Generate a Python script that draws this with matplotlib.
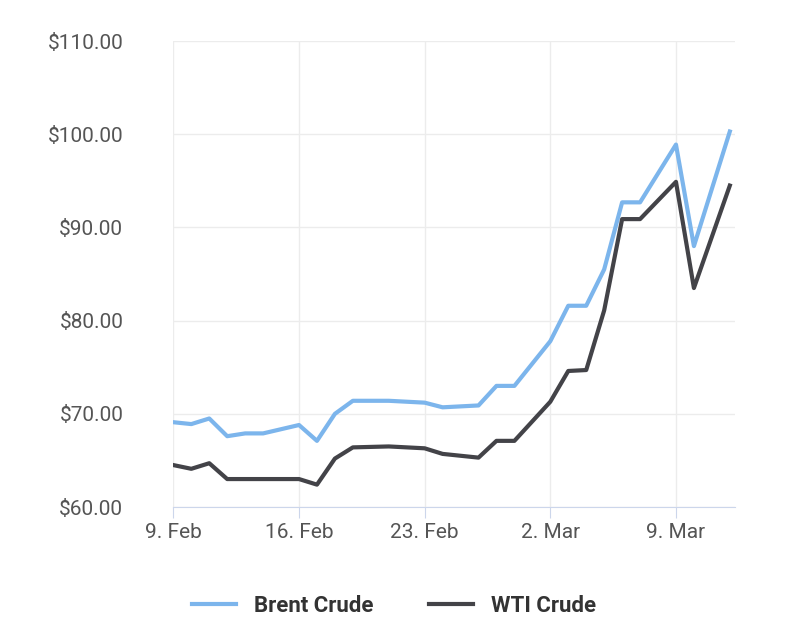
import datetime as dt
import matplotlib.pyplot as plt
import matplotlib.dates as mdates
from matplotlib.ticker import FuncFormatter

plt.rcParams['font.family'] = ['Roboto', 'DejaVu Sans']

day_offsets = [0, 1, 2, 3, 4, 5, 7, 8, 9, 10, 12, 14, 15, 17, 18, 19, 21, 22, 23, 24, 25, 26, 28, 29, 31]
brent = [69.1, 68.9, 69.5, 67.6, 67.9, 67.9, 68.8, 67.1, 70.0, 71.4, 71.4, 71.2, 70.7, 70.9,
         73.0, 73.0, 77.8, 81.6, 81.6, 85.5, 92.7, 92.7, 98.9, 88.0, 100.3]
wti = [64.5, 64.1, 64.7, 63.0, 63.0, 63.0, 63.0, 62.4, 65.2, 66.4, 66.5, 66.3, 65.7, 65.3,
       67.1, 67.1, 71.3, 74.6, 74.7, 81.1, 90.9, 90.9, 94.9, 83.5, 94.5]

start = dt.datetime(2026, 2, 9)
dates = [start + dt.timedelta(days=d) for d in day_offsets]

fig = plt.figure(figsize=(7.88, 6.43), dpi=100)
ax = fig.add_axes([0.22, 0.2115, 0.713, 0.7245])
ax.plot(dates, brent, color='#7cb5ec', lw=3, label='Brent Crude')
ax.plot(dates, wti, color='#434348', lw=3, label='WTI Crude')

ax.set_ylim(60, 110)
ax.set_yticks(range(60, 111, 10))
ax.yaxis.set_major_formatter(FuncFormatter(lambda v, p: f'${v:.2f}'))
ax.set_xlim(start, start + dt.timedelta(days=31.3))
ax.set_xticks([start + dt.timedelta(days=7 * i) for i in range(5)])
ax.xaxis.set_major_formatter(FuncFormatter(
    lambda v, p: f"{mdates.num2date(v).day}. {mdates.num2date(v).strftime('%b')}"))

ax.grid(True, color='#ececec', lw=1)
ax.set_axisbelow(True)
for s in ['top', 'right', 'left']:
    ax.spines[s].set_visible(False)
ax.spines['bottom'].set_color('#ccd6eb')
ax.tick_params(axis='y', length=0, labelsize=15, labelcolor='#555555', pad=36)
ax.tick_params(axis='x', length=8, color='#ccd6eb', labelsize=15, labelcolor='#555555')

leg = fig.legend(loc='lower center', bbox_to_anchor=(0.5, 0.01), ncol=2, frameon=False,
                 prop={'size': 16, 'weight': 'bold'}, handlelength=2, columnspacing=2.5)
for t in leg.get_texts():
    t.set_color('#333333')

fig.savefig('out.png')
